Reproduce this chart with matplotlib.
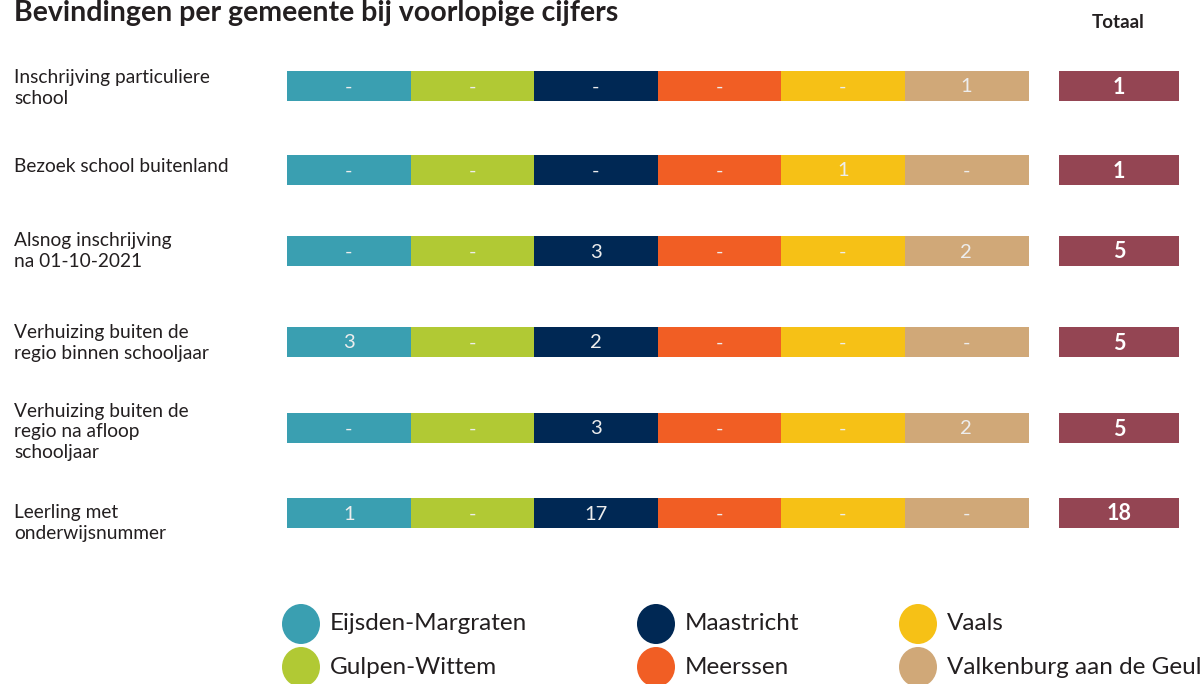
import matplotlib
matplotlib.use("Agg")
import matplotlib.pyplot as plt
from matplotlib.patches import Ellipse

plt.rcParams['font.family'] = ['Lato', 'DejaVu Sans']

# Data
rows = ["Inschrijving particuliere\nschool",
        "Bezoek school buitenland",
        "Alsnog inschrijving\nna 01-10-2021",
        "Verhuizing buiten de\nregio binnen schooljaar",
        "Verhuizing buiten de\nregio na afloop\nschooljaar",
        "Leerling met\nonderwijsnummer"]
gemeenten = ["Eijsden-Margraten", "Gulpen-Wittem", "Maastricht",
             "Meerssen", "Vaals", "Valkenburg aan de Geul"]
eijsden = [0, 0, 0, 3, 0, 1]
gulpen = [0, 0, 0, 0, 0, 0]
maastricht = [0, 0, 3, 2, 3, 17]
meerssen = [0, 0, 0, 0, 0, 0]
vaals = [0, 1, 0, 0, 0, 0]
valkenburg = [1, 0, 2, 0, 2, 0]
totaal = [1, 1, 5, 5, 5, 18]

colors = ["#3A9FB1", "#B1C934", "#002854", "#F15E24", "#F6C116", "#D0A878"]
total_color = "#944553"

# Layout in pixels
W, H = 1203, 684
row_y = [86, 170, 251, 342, 428, 513]
label_y = [88, 166, 251, 343, 432, 523]
bar_h = 30
x0, seg_w = 287, 123.5
tot_x, tot_w = 1059, 120

fig = plt.figure(figsize=(W / 100, H / 100), dpi=100)
ax = fig.add_axes([0, 0, 1, 1])
ax.set_xlim(0, W)
ax.set_ylim(H, 0)
ax.axis("off")

series = [eijsden, gulpen, maastricht, meerssen, vaals, valkenburg]
for j, (vals, c) in enumerate(zip(series, colors)):
    ax.barh(row_y, [seg_w + 0.5] * len(rows), left=x0 + j * seg_w,
            height=bar_h, color=c, linewidth=0)
    for y, v in zip(row_y, vals):
        ax.text(x0 + j * seg_w + seg_w / 2, y + 1, str(v) if v else "-",
                ha="center", va="center", color="#EDEDED", fontsize=14.5)

ax.barh(row_y, [tot_w] * len(rows), left=tot_x, height=bar_h,
        color=total_color, linewidth=0)
for y, t in zip(row_y, totaal):
    ax.text(tot_x + tot_w / 2, y + 1, str(t), ha="center", va="center",
            color="white", fontsize=15.5, fontweight="bold")

for y, lab in zip(label_y, rows):
    ax.text(14, y, lab, ha="left", va="center", fontsize=13.8,
            color="#231F20", linespacing=1.22)

ax.text(1118, 22, "Totaal", ha="center", va="center", fontsize=13.5,
        fontweight="bold", color="#231F20")
ax.text(14, 13, "Bevindingen per gemeente bij voorlopige cijfers",
        ha="left", va="center", fontsize=20.5, fontweight="bold",
        color="#231F20")

# Legend
leg_x = [301, 656, 918]
leg_y = [624, 667]
for k, (name, c) in enumerate(zip(gemeenten, colors)):
    cx = leg_x[k // 2]
    cy = leg_y[k % 2]
    ax.add_patch(Ellipse((cx, cy), 38, 40, color=c, linewidth=0))
    ax.text(cx + 29, cy, name, ha="left", va="center", fontsize=17.5,
            color="#231F20")

fig.savefig("out.png", dpi=100)
